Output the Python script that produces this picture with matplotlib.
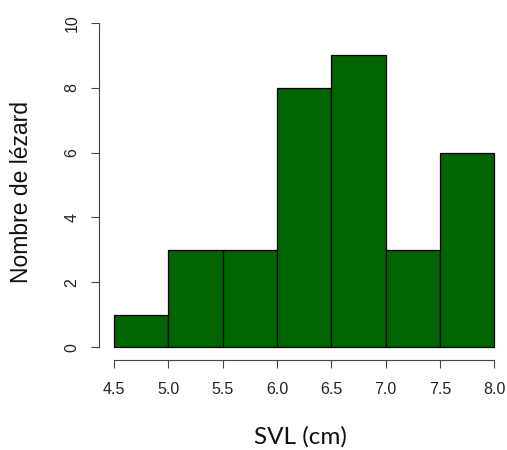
import matplotlib
matplotlib.use("Agg")
import matplotlib.pyplot as plt

plt.rcParams['font.family'] = ['Liberation Sans', 'DejaVu Sans']

# classes SVL (cm) et effectifs
bornes = [4.5, 5.0, 5.5, 6.0, 6.5, 7.0, 7.5, 8.0]
effectifs = [1, 3, 3, 8, 9, 3, 6]
x_ticks = [4.5, 5.0, 5.5, 6.0, 6.5, 7.0, 7.5, 8.0]
y_ticks = [0, 2, 4, 6, 8, 10]

fig = plt.figure(figsize=(5.07, 4.5), dpi=100)
ax = fig.add_axes([98.8 / 507, 1 - 360.3 / 450, (509.5 - 98.8) / 507, (360.3 - 9.7) / 450])

largeurs = [bornes[i + 1] - bornes[i] for i in range(len(effectifs))]
ax.bar(bornes[:-1], effectifs, width=largeurs, align='edge',
       color='#006400', edgecolor='black', linewidth=0.9)

ax.set_xlim(4.36, 8.14)
ax.set_ylim(-0.4, 10.4)

for s in ['top', 'right']:
    ax.spines[s].set_visible(False)
ax.spines['left'].set_bounds(0, 10)
ax.spines['bottom'].set_bounds(4.5, 8.0)
for s in ['left', 'bottom']:
    ax.spines[s].set_color('#444444')
    ax.spines[s].set_linewidth(0.8)

ax.set_xticks(x_ticks)
ax.set_xticklabels([f"{v:.1f}" for v in x_ticks])
ax.set_yticks(y_ticks)
ax.set_yticklabels([str(v) for v in y_ticks], rotation=90, va='center')
ax.tick_params(axis='both', length=5.5, width=0.8, color='#444444',
               labelsize=11.5, labelcolor='#222222')
ax.tick_params(axis='x', pad=10)
ax.tick_params(axis='y', pad=8.5)

fig.text(300 / 507, 1 - 437 / 450, "SVL (cm)", ha='center', va='center',
         fontsize=17.5, family='Lato', color='#111111')
fig.text(22 / 507, 1 - 192 / 450, "Nombre de lézard", ha='center', va='center',
         rotation=90, fontsize=16.5, color='#111111')

fig.savefig("out.png", dpi=100)
